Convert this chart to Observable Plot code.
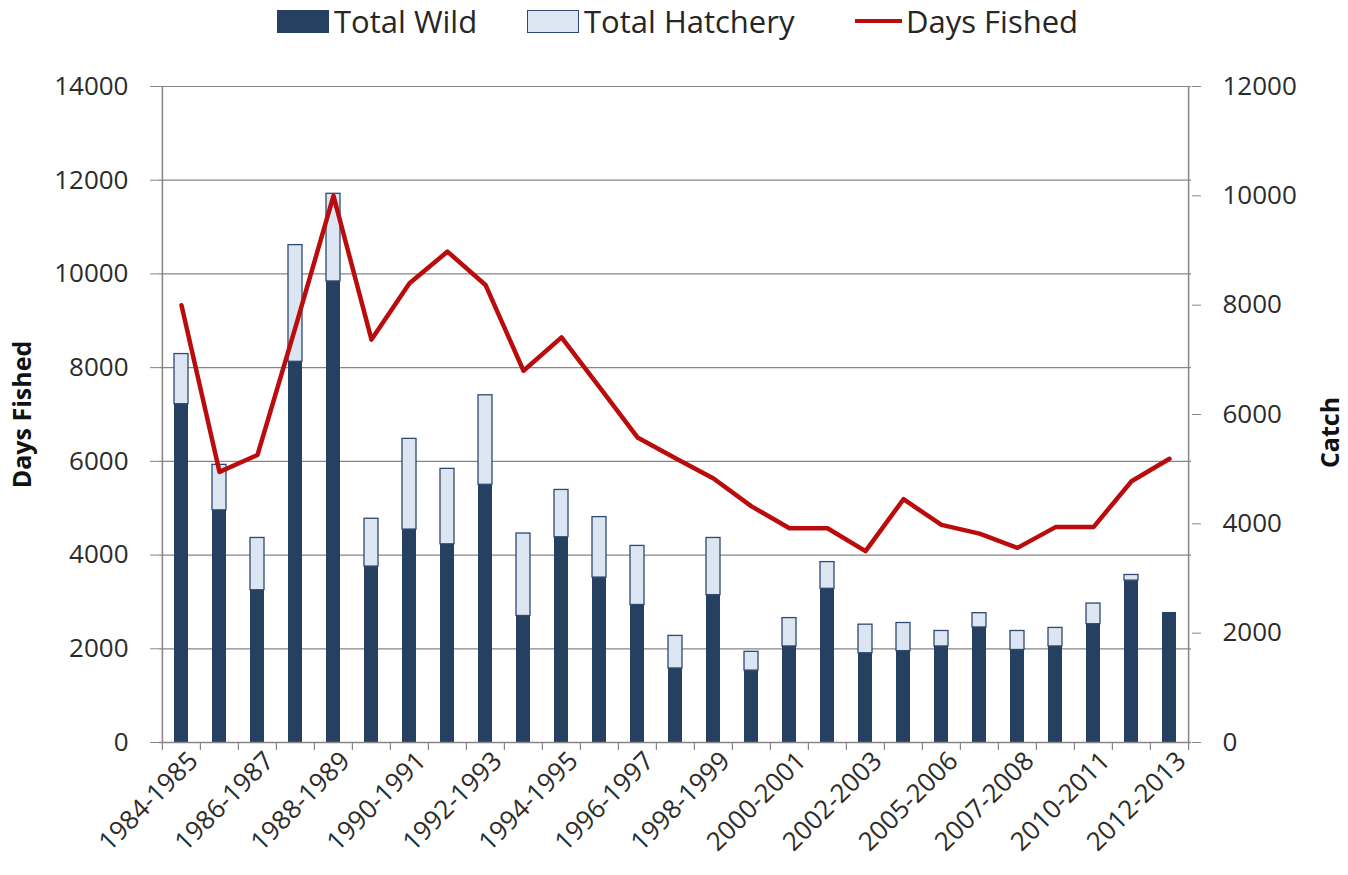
<!DOCTYPE html>
<html>
<head>
<meta charset="utf-8">
<script src="https://cdn.jsdelivr.net/npm/d3@7"></script>
<script src="https://cdn.jsdelivr.net/npm/@observablehq/plot@0.6"></script>
<style>
  html, body { margin: 0; padding: 0; background: #fff; }
  body { width: 1348px; height: 875px; overflow: hidden; font-family: "Open Sans", sans-serif; }
  #legend { position: relative; height: 50px; width: 1348px; }
  .item { position: absolute; top: -4px; height: 50px; display: flex; align-items: center; font-size: 31px; color: #262626; white-space: nowrap; }
  .sw { display: inline-block; width: 52px; height: 23px; margin-right: 5px; box-sizing: border-box; }
  .ln { display: inline-block; width: 47px; height: 4px; margin-right: 4px; }
  #chart svg { display: block; }
</style>
</head>
<body>
<div id="legend"></div>
<div id="chart"></div>
<script>
// ---- data ----
const seasons = [
  "1984-1985","1985-1986","1986-1987","1987-1988","1988-1989","1989-1990",
  "1990-1991","1991-1992","1992-1993","1993-1994","1994-1995","1995-1996",
  "1996-1997","1997-1998","1998-1999","1999-2000","2000-2001","2001-2002",
  "2002-2003","2004-2005","2005-2006","2006-2007","2007-2008","2008-2009",
  "2010-2011","2011-2012","2012-2013"
];
const tickLabels = [
  "1984-1985","1986-1987","1988-1989","1990-1991","1992-1993","1994-1995",
  "1996-1997","1998-1999","2000-2001","2002-2003","2005-2006","2007-2008",
  "2010-2011","2012-2013"
];
const totalWild = [
  7220, 4955, 3250, 8125, 9840, 3755, 4545, 4230, 5500, 2700, 4380, 3520,
  2935, 1580, 3145, 1535, 2050, 3280, 1905, 1950, 2050, 2455, 1975, 2050,
  2525, 3455, 2775
];
const totalHatchery = [
  1070, 970, 1115, 2490, 1870, 1020, 1935, 1610, 1910, 1760, 1010, 1290,
  1260, 695, 1220, 400, 605, 570, 610, 600, 330, 305, 405, 395,
  440, 120, 0
];
const daysFished = [
  8000, 4950, 5260, 7600, 10000, 7370, 8400, 8980, 8370, 6800, 7410, 6500,
  5580, 5200, 4830, 4320, 3920, 3920, 3500, 4450, 3980, 3820, 3560, 3940,
  3940, 4780, 5190
];
const leftTicks = [0, 2000, 4000, 6000, 8000, 10000, 12000, 14000];
const rightTicks = [0, 2000, 4000, 6000, 8000, 10000, 12000];
const leftMax = 14000, rightMax = 12000;

const colors = { wild: "#254061", hatch: "#DCE6F2", hatchStroke: "#2E4A6E", line: "#BA0C0C", grid: "#868686", text: "#2b2b2b" };

// ---- legend ----
const legend = document.getElementById("legend");
legend.innerHTML = `
  <div class="item" style="left:277px"><span class="sw" style="background:${colors.wild}"></span>Total Wild</div>
  <div class="item" style="left:527px"><span class="sw" style="background:${colors.hatch};border:1.5px solid ${colors.hatchStroke}"></span>Total Hatchery</div>
  <div class="item" style="left:855px"><span class="ln" style="background:${colors.line}"></span>Days Fished</div>
`;

// ---- chart ----
const W = 1348, H = 825;
const mL = 159, mR = 157, mT = 36, mB = 133;
const step = (W - mL - mR) / seasons.length;
const k = leftMax / rightMax;
const rows = seasons.map((s, i) => ({ season: s, wild: totalWild[i], hatch: totalHatchery[i], days: daysFished[i] }));
const first = seasons[0], last = seasons[seasons.length - 1];

const chart = Plot.plot({
  width: W, height: H,
  marginLeft: mL, marginRight: mR, marginTop: mT, marginBottom: mB,
  style: { fontFamily: "'Open Sans', sans-serif", fontSize: "26px", color: colors.text, background: "white", overflow: "visible" },
  x: { type: "band", domain: seasons, paddingInner: 0.62, paddingOuter: 0.31, align: 0.5 },
  y: { domain: [0, leftMax] },
  marks: [
    Plot.gridY(leftTicks, { stroke: colors.grid, strokeOpacity: 1, strokeWidth: 1.2 }),
    Plot.barY(rows, { x: "season", y1: 0, y2: "wild", fill: colors.wild }),
    Plot.barY(rows.filter(d => d.hatch > 0), { x: "season", y1: "wild", y2: d => d.wild + d.hatch, fill: colors.hatch, stroke: colors.hatchStroke, strokeWidth: 1.3 }),
    // boundary tick marks on the category axis
    Plot.ruleX(seasons, { x: d => d, y1: 0, y2: 0, dx: -step / 2, insetBottom: -8, stroke: colors.grid, strokeWidth: 1.2 }),
    Plot.ruleX([last], { x: d => d, y1: 0, y2: 0, dx: step / 2, insetBottom: -8, stroke: colors.grid, strokeWidth: 1.2 }),
    // axis lines
    Plot.ruleX([first], { x: d => d, y1: 0, y2: leftMax, dx: -step / 2, stroke: colors.grid, strokeWidth: 1.5 }),
    Plot.ruleX([last], { x: d => d, y1: 0, y2: leftMax, dx: step / 2, stroke: colors.grid, strokeWidth: 1.5 }),
    Plot.ruleY([0], { stroke: colors.grid, strokeWidth: 1.5 }),
    Plot.lineY(rows, { x: "season", y: d => d.days * k, stroke: colors.line, strokeWidth: 4.5, strokeLinejoin: "round" }),
    Plot.axisY({ anchor: "left", ticks: leftTicks, tickFormat: d => String(d), tickSize: 9, tickPadding: 22, stroke: colors.grid, fill: colors.text, fontSize: 26, label: null }),
    Plot.axisY({ anchor: "right", ticks: rightTicks.map(v => v * k), tickFormat: d => String(Math.round(d / k)), tickSize: 9, tickPadding: 22, stroke: colors.grid, fill: colors.text, fontSize: 26, label: null }),
    Plot.axisX({ ticks: tickLabels, tickSize: 0, tickRotate: -45, tickPadding: 14, dx: 12, fill: colors.text, fontSize: 26, label: null }),
    Plot.text(["Days Fished"], { text: d => d, frameAnchor: "left", textAnchor: "middle", dx: -137, rotate: -90, fontWeight: "bold", fontSize: 25, fill: "#111" }),
    Plot.text(["Catch"], { text: d => d, frameAnchor: "right", textAnchor: "middle", dx: 139, dy: 18, rotate: -90, fontWeight: "bold", fontSize: 25, fill: "#111" })
  ]
});
document.getElementById("chart").appendChild(chart);
</script>
</body>
</html>
